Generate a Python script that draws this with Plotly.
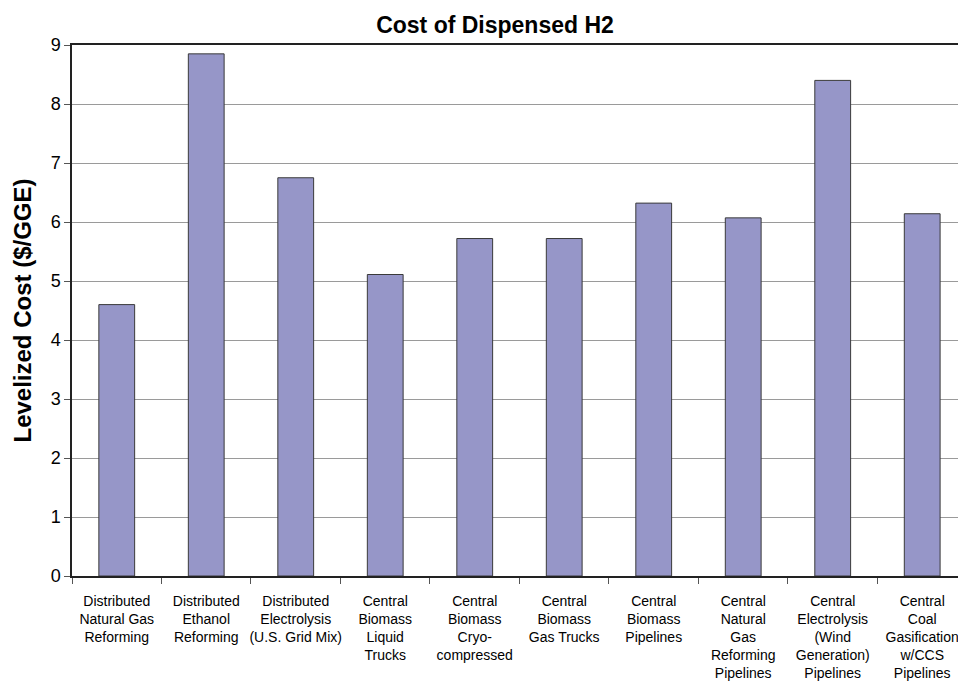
import plotly.graph_objects as go

categories = [
    "Distributed<br>Natural Gas<br>Reforming",
    "Distributed<br>Ethanol<br>Reforming",
    "Distributed<br>Electrolysis<br>(U.S. Grid Mix)",
    "Central<br>Biomass<br>Liquid<br>Trucks",
    "Central<br>Biomass<br>Cryo-<br>compressed",
    "Central<br>Biomass<br>Gas Trucks",
    "Central<br>Biomass<br>Pipelines",
    "Central<br>Natural<br>Gas<br>Reforming<br>Pipelines",
    "Central<br>Electrolysis<br>(Wind<br>Generation)<br>Pipelines",
    "Central<br>Coal<br>Gasification<br>w/CCS<br>Pipelines",
]
costs = [4.60, 8.85, 6.75, 5.11, 5.72, 5.72, 6.32, 6.07, 8.40, 6.14]
y_ticks = [0, 1, 2, 3, 4, 5, 6, 7, 8, 9]

FONT = "Arial, Liberation Sans, sans-serif"

fig = go.Figure(
    go.Bar(
        x=categories,
        y=costs,
        width=0.4,
        marker=dict(color="#9696C8", line=dict(color="#3a3a3a", width=1)),
    )
)

fig.update_layout(
    width=958,
    height=681,
    margin=dict(l=72, r=0, t=45, b=105),
    paper_bgcolor="white",
    plot_bgcolor="white",
    showlegend=False,
    font=dict(family=FONT, color="black"),
    title=dict(
        text="<b>Cost of Dispensed H2</b>",
        font=dict(family=FONT, size=23, color="black"),
        xref="container", x=495 / 958, xanchor="center",
        yref="container", y=1 - 25 / 681, yanchor="middle",
    ),
)

fig.update_xaxes(
    type="category",
    range=[-0.5, 9.4],
    showgrid=False,
    showline=True, linecolor="#222222", linewidth=1.5, mirror=True,
    ticks="outside", tickson="boundaries", ticklen=6, tickcolor="#555555", tickwidth=1,
    tickfont=dict(family=FONT, size=14, color="black"),
    ticklabelstandoff=11,
    tickangle=0,
)

fig.update_yaxes(
    range=[0, 9],
    tickvals=y_ticks,
    showgrid=True, gridcolor="#9a9a9a", gridwidth=1,
    showline=True, linecolor="#222222", linewidth=1.5,
    ticks="outside", ticklen=6, tickcolor="#555555",
    tickfont=dict(family=FONT, size=18, color="black"),
    zeroline=False,
    title=dict(text="<b>Levelized Cost ($/GGE)</b>", font=dict(family=FONT, size=24, color="black"), standoff=12),
)

fig.write_html("out.html")
